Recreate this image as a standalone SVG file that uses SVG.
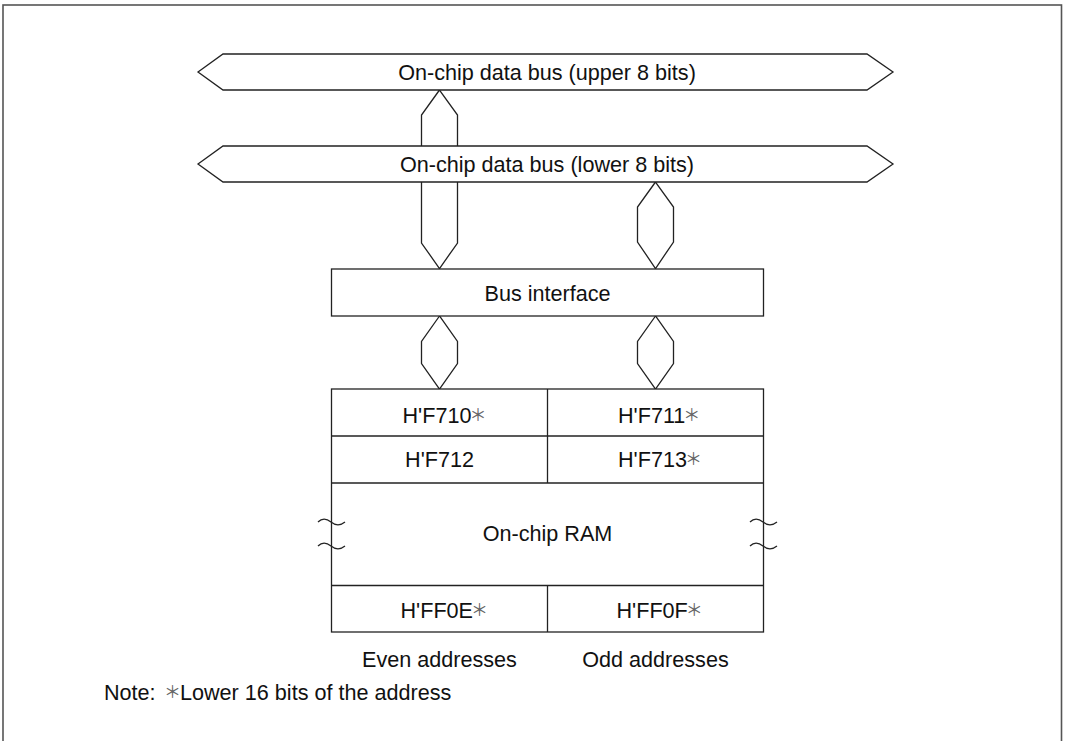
<svg xmlns="http://www.w3.org/2000/svg" width="1066" height="741" viewBox="0 0 1066 741">
<style>
  text { font-family: "Liberation Sans", Arial, sans-serif; font-size: 21.6px; fill: #111; }
  .c { text-anchor: middle; }
  .shape { fill: #fff; stroke: #222; stroke-width: 1.3; }
  .ln { fill: none; stroke: #222; stroke-width: 1.3; }
  .ast { font-family: "Noto Sans CJK JP", "DejaVu Sans", sans-serif; font-size: 17px; fill: #666; }
</style>
<rect id="frame" x="3" y="5" width="1058.5" height="780" fill="#fff" stroke="#555" stroke-width="1.6"/>

<g id="connectors">
  <polygon class="shape" points="439.5,90 421.5,115 421.5,243 439.5,268.5 457.5,243 457.5,115"/>
  <polygon class="shape" points="655.5,182 637.5,207 637.5,242 655.5,268.5 673.5,242 673.5,207"/>
  <polygon class="shape" points="439.5,316 421.5,341.5 421.5,363.5 439.5,389 457.5,363.5 457.5,341.5"/>
  <polygon class="shape" points="655.5,316 637.5,341.5 637.5,363.5 655.5,389 673.5,363.5 673.5,341.5"/>
</g>

<g id="bus-upper">
  <polygon class="shape" points="198,72 223,54 867,54 893,72 867,90 223,90"/>
  <text class="c" x="547" y="80">On-chip data bus (upper 8 bits)</text>
</g>

<g id="bus-lower">
  <polygon class="shape" points="198,164 223,146 867,146 893,164 867,182 223,182"/>
  <text class="c" x="547" y="172">On-chip data bus (lower 8 bits)</text>
</g>

<g id="bus-interface">
  <rect class="shape" x="331.5" y="269" width="432" height="47"/>
  <text class="c" x="547.5" y="301">Bus interface</text>
</g>

<g id="ram">
  <rect class="shape" x="331.5" y="389" width="432" height="243"/>
  <line class="ln" x1="331.5" y1="436" x2="763.5" y2="436"/>
  <line class="ln" x1="331.5" y1="483" x2="763.5" y2="483"/>
  <line class="ln" x1="331.5" y1="585.5" x2="763.5" y2="585.5"/>
  <line class="ln" x1="547.5" y1="389" x2="547.5" y2="483"/>
  <line class="ln" x1="547.5" y1="585.5" x2="547.5" y2="632"/>
  <path class="ln" d="M318,522 c4,-4 8,-4 13,0 s9,4 14,0"/>
  <path class="ln" d="M318,546 c4,-4 8,-4 13,0 s9,4 14,0"/>
  <path class="ln" d="M750,522 c4,-4 8,-4 13,0 s9,4 14,0"/>
  <path class="ln" d="M750,546 c4,-4 8,-4 13,0 s9,4 14,0"/>
  <text x="402.5" y="422.5">H'F710<tspan class="ast" dx="-2" dy="-2">＊</tspan></text>
  <text x="618" y="422.5">H'F711<tspan class="ast" dx="-2" dy="-2">＊</tspan></text>
  <text class="c" x="439.5" y="467">H'F712</text>
  <text x="618" y="467">H'F713<tspan class="ast" dx="-2" dy="-2">＊</tspan></text>
  <text class="c" x="547.5" y="541">On-chip RAM</text>
  <text x="400.5" y="617.5">H'FF0E<tspan class="ast" dx="-2" dy="-2">＊</tspan></text>
  <text x="616.5" y="617.5">H'FF0F<tspan class="ast" dx="-2" dy="-2">＊</tspan></text>
</g>

<g id="labels">
  <text class="c" x="439.5" y="667">Even addresses</text>
  <text class="c" x="655.5" y="667">Odd addresses</text>
  <text x="104" y="700">Note:<tspan class="ast" x="164" dy="-2">＊</tspan><tspan x="180" dy="2">Lower 16 bits of the address</tspan></text>
</g>
</svg>
